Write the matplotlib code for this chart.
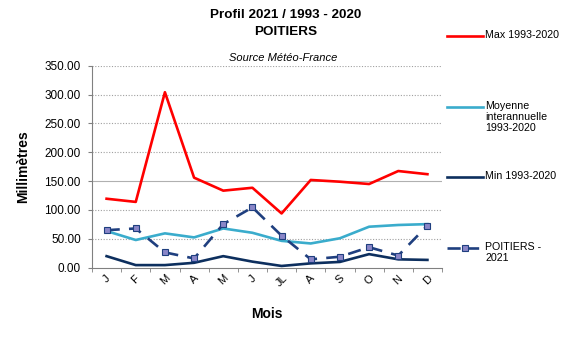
import numpy as np
import matplotlib.pyplot as plt
from matplotlib.lines import Line2D

plt.rcParams['font.family'] = ['Liberation Sans', 'DejaVu Sans']

mois = ['J', 'F', 'M', 'A', 'M', 'J', 'JL', 'A', 'S', 'O', 'N', 'D']
max_1993_2020 = [119.5, 114, 304, 156, 133.5, 138.5, 94, 152, 149, 145, 167.5, 162]
moyenne = [63.5, 48, 59.5, 52.5, 68, 60.5, 46.5, 42, 51, 71, 74, 75.5]
min_1993_2020 = [20, 4.5, 4.5, 8.5, 20, 10.5, 3, 7.5, 10, 23.5, 14.5, 13.5]
poitiers_2021 = [65, 68, 26.5, 16, 75.5, 104.5, 55.5, 14.5, 19, 35.5, 21, 73]

c_max = '#ff0000'
c_moy = '#3aaccc'
c_min = '#0d2f5e'
c_poi = '#1f3f7f'
c_mfc = '#8a86c8'

fig = plt.figure(figsize=(5.68, 3.41), dpi=100)
ax = fig.add_axes([92 / 568, 1 - 267.7 / 341, 350 / 568, 202 / 341])

x = np.arange(len(mois))
ax.plot(x, max_1993_2020, color=c_max, lw=1.9, zorder=3)
ax.plot(x, moyenne, color=c_moy, lw=1.9, zorder=3)
ax.plot(x, min_1993_2020, color=c_min, lw=1.9, zorder=3)
ax.plot(x, poitiers_2021, color=c_poi, lw=1.9, ls=(0, (5, 3.5)),
        marker='s', ms=5, mfc=c_mfc, mec=c_poi, mew=0.8, zorder=4)

ax.set_xlim(-0.5, len(mois) - 0.5)
ax.set_ylim(0, 350)
ax.set_yticks(np.arange(0, 351, 50))
ax.set_yticklabels(['%.2f' % v for v in np.arange(0, 351, 50)], fontsize=8.5)
ax.set_xticks(x)
ax.set_xticklabels(mois, fontsize=8, rotation=45, ha='center')
ax.set_xticks(np.arange(-0.5, len(mois)), minor=True)
ax.tick_params(axis='x', which='major', length=0, pad=4)
ax.tick_params(axis='x', which='minor', length=3, color='#808080')
ax.tick_params(axis='y', length=3, color='#808080', pad=5)

for v in np.arange(50, 351, 50):
    if v == 150:
        ax.axhline(v, color='#b0b0b0', lw=0.8, zorder=1)
    else:
        ax.axhline(v, color='#a0a0a0', lw=0.8, ls=(0, (1, 1.5)), zorder=1)

for s in ['top', 'right']:
    ax.spines[s].set_visible(False)
for s in ['left', 'bottom']:
    ax.spines[s].set_color('#808080')

ax.set_ylabel('Millimètres', fontsize=10, fontweight='bold', labelpad=10)
ax.set_xlabel('Mois', fontsize=10, fontweight='bold', labelpad=13.5)

fig.text(286 / 568, 1 - 15 / 341, 'Profil 2021 / 1993 - 2020', ha='center', va='center',
         fontsize=9.7, fontweight='bold')
fig.text(286 / 568, 1 - 32 / 341, 'POITIERS', ha='center', va='center',
         fontsize=9.7, fontweight='bold')
fig.text(283 / 568, 1 - 58 / 341, 'Source Météo-France', ha='center', va='center',
         fontsize=8, style='italic')

# legend drawn by hand, handle next to the first line of each label
entries = [
    ('Max 1993-2020', c_max, '-', None, 36),
    ('Moyenne\ninterannuelle\n1993-2020', c_moy, '-', None, 107),
    ('Min 1993-2020', c_min, '-', None, 177),
    ('POITIERS -\n2021', c_poi, (0, (5, 2)), 's', 248),
]
for label, col, ls, mk, yp in entries:
    yf = 1 - yp / 341
    fig.add_artist(Line2D([447 / 568, 483 / 568], [yf, yf], color=col, lw=1.9, ls=ls,
                          transform=fig.transFigure))
    if mk:
        fig.add_artist(Line2D([465 / 568], [yf], color=col, marker=mk, ms=5, mfc=c_mfc,
                              mec=c_poi, mew=0.8, transform=fig.transFigure))
    fig.text(485 / 568, yf + 6 / 341, label, ha='left', va='top', fontsize=7.7,
             linespacing=1.15)

fig.savefig('out.png', dpi=100)
